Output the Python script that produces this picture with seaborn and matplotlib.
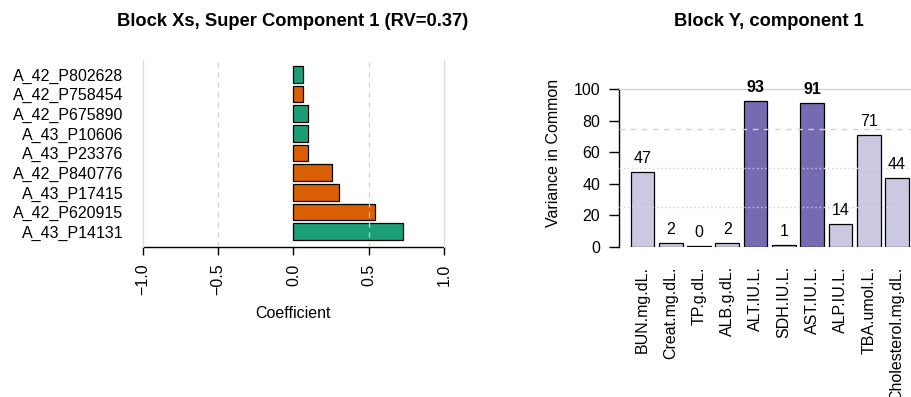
import matplotlib
matplotlib.use("Agg")
import matplotlib.pyplot as plt
import pandas as pd
import seaborn as sns

# Block Xs: feature loadings on super component 1
features = ["A_42_P802628", "A_42_P758454", "A_42_P675890", "A_43_P10606",
            "A_43_P23376", "A_42_P840776", "A_43_P17415", "A_42_P620915",
            "A_43_P14131"]
coefs = [0.063, 0.062, 0.096, 0.095, 0.097, 0.256, 0.304, 0.54, 0.73]
groups = ["g1", "g2", "g1", "g1", "g2", "g2", "g2", "g2", "g1"]
x_ticks = [-1.0, -0.5, 0.0, 0.5, 1.0]

# Block Y: variance in common, component 1
variables = ["BUN.mg.dL.", "Creat.mg.dL.", "TP.g.dL.", "ALB.g.dL.", "ALT.IU.L.",
             "SDH.IU.L.", "AST.IU.L.", "ALP.IU.L.", "TBA.umol.L.", "Cholesterol.mg.dL."]
variance = [47.3, 2.4, 0.2, 2.4, 92.6, 1.2, 91.1, 14.2, 71.0, 43.6]
y_ticks = [0, 20, 40, 60, 80, 100]
cutoff = 75

sns.set_theme(style="white")
plt.rcParams["font.family"] = ["Liberation Sans", "DejaVu Sans"]
plt.rcParams["text.color"] = "black"
plt.rcParams["xtick.color"] = "black"
plt.rcParams["ytick.color"] = "black"
FS = 11.5
TFS = 13.2

W, H = 912, 397
fig = plt.figure(figsize=(W / 100, H / 100), dpi=100)

def px_axes(left, top, right, bottom):
    return fig.add_axes([left / W, 1 - bottom / H, (right - left) / W, (bottom - top) / H])

# --- left panel ---
ax1 = px_axes(143, 60, 444, 246.7)
df_x = pd.DataFrame({"feature": features, "coef": coefs, "group": groups})
sns.barplot(data=df_x, x="coef", y="feature", hue="group", dodge=False,
            palette={"g1": "#1B9E77", "g2": "#D95F02"}, width=0.85, saturation=1,
            edgecolor="black", linewidth=0.9, legend=False, ax=ax1, zorder=2)
ax1.set_xlim(-1, 1)
ax1.set_ylim(len(features) - 1 + 0.76, -0.73)
for v in x_ticks:
    if abs(v) == 1:
        ax1.axvline(v, color="#dcdcdc", lw=1, zorder=3, clip_on=False)
    elif v != 0:
        ax1.axvline(v, color="#d0d0d0", lw=0.9, ls=(0, (4, 4)), zorder=3)
ax1.set_xticks(x_ticks)
ax1.set_xticklabels([f"{v:.1f}".replace("-", "\u2212") for v in x_ticks], rotation=90)
ax1.tick_params(axis="x", length=6, width=1, color="black", pad=6, labelsize=FS,
                bottom=True)
ax1.tick_params(axis="y", length=0, pad=14, labelsize=FS)
for s in ["left", "right", "top"]:
    ax1.spines[s].set_visible(False)
ax1.spines["bottom"].set_color("black")
ax1.spines["bottom"].set_linewidth(1)
ax1.set_xlabel("")
ax1.set_ylabel("")
fig.text(293 / W, 1 - 313 / H, "Coefficient", ha="center", va="center", fontsize=FS)
fig.text(293 / W, 1 - 22 / H, "Block Xs, Super Component 1 (RV=0.37)",
         ha="center", va="center", fontsize=TFS, fontweight="bold")

# --- right panel ---
ax2 = px_axes(619, 60, 912, 246.7)
df_y = pd.DataFrame({"variable": variables, "variance": variance})
df_y["level"] = ["high" if v > cutoff else "low" for v in variance]
sns.barplot(data=df_y, x="variable", y="variance", hue="level", dodge=False,
            palette={"high": "#756BB1", "low": "#CBC9E2"}, width=0.837, saturation=1,
            edgecolor="black", linewidth=0.9, legend=False, ax=ax2, zorder=2)
ax2.set_xlim(-0.83, len(variables) - 1 + 0.53)
ax2.set_ylim(0, 118.6)
ax2.axhline(100, color="#d3d3d3", lw=1, zorder=3)
ax2.axhline(cutoff, color="#d3d3d3", lw=1, ls=(0, (4, 4)), zorder=3)
ax2.axhline(50, color="#d3d3d3", lw=1, ls=(0, (1, 2)), zorder=3)
ax2.axhline(25, color="#d3d3d3", lw=1, ls=(0, (1, 2)), zorder=3)
for i, v in enumerate(variance):
    ax2.annotate(f"{round(v)}", (i, v), xytext=(0, 4.5), textcoords="offset points",
                 ha="center", va="bottom", fontsize=FS,
                 fontweight="bold" if v > cutoff else "normal")
ax2.set_yticks(y_ticks)
ax2.tick_params(axis="y", length=7.5, width=1, color="black", pad=6, labelsize=FS,
                left=True)
ax2.tick_params(axis="x", length=0, pad=14, labelsize=FS, rotation=90)
for s in ["bottom", "right", "top"]:
    ax2.spines[s].set_visible(False)
ax2.spines["left"].set_bounds(0, 100)
ax2.spines["left"].set_color("black")
ax2.spines["left"].set_linewidth(1)
ax2.set_xlabel("")
ax2.set_ylabel("")
fig.text(553 / W, 1 - 153 / H, "Variance in Common", rotation=90, ha="center",
         va="center", fontsize=FS)
fig.text(769 / W, 1 - 21 / H, "Block Y, component 1", ha="center", va="center",
         fontsize=TFS, fontweight="bold")

fig.savefig("out.png", dpi=100)
